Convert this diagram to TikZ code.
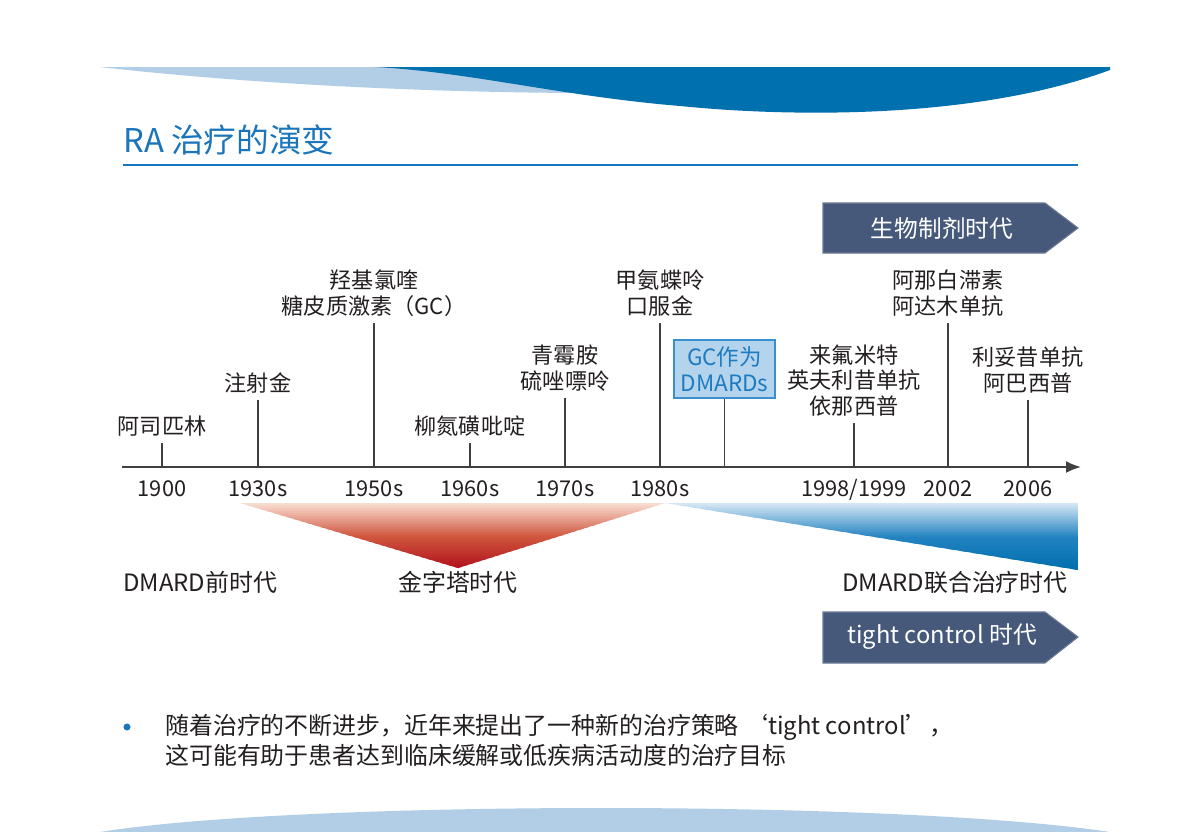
\documentclass[tikz,border=0pt]{standalone}
\usepackage{fontspec}
\setmainfont{Noto Sans CJK SC}
\usetikzlibrary{arrows.meta}
\definecolor{cwave}{HTML}{0070AE}
\definecolor{cwavelt}{HTML}{B2CEE6}
\definecolor{ctitle}{HTML}{1B75BB}
\definecolor{cban}{HTML}{46597A}
\definecolor{cink}{HTML}{231F20}
\definecolor{cgrey}{HTML}{404040}
\definecolor{cgcfill}{HTML}{B4D4EE}
\definecolor{cgcline}{HTML}{3A8FCF}
\definecolor{cgctext}{HTML}{1E7BC0}
\definecolor{cpyrlt}{HTML}{F8DCD0}
\definecolor{cpyrmid}{HTML}{D0583F}
\definecolor{cpyrdk}{HTML}{B2121C}
\definecolor{ccomblt}{HTML}{D4E6F4}
\definecolor{ccombmid}{HTML}{2383C1}
\definecolor{ccombdk}{HTML}{006EAE}

\begin{document}
\begin{tikzpicture}[
    x=0.02cm, y=-0.02cm,
    >={Latex[length=3mm, width=2.4mm]},
    axisline/.style={->, line width=1.1pt, draw=cgrey},
    tick/.style={line width=0.9pt, draw=cgrey},
    lbl/.style={font=\fontsize{12.6}{14.7}\selectfont, text=cink, align=center,
                anchor=south, inner sep=3.5pt},
    yr/.style={font=\fontsize{12.4}{14}\selectfont, text=cink, anchor=base},
    era/.style={font=\fontsize{13.6}{15}\selectfont, text=cink, inner sep=0pt},
    banner/.style={fill=cban, draw=cban!80!white, line width=0.6pt},
    bantxt/.style={font=\fontsize{13.5}{15}\selectfont, text=white},
    gcbox/.style={draw=cgcline, fill=cgcfill, line width=0.9pt, text=cgctext,
                  align=center, font=\fontsize{12.8}{14.7}\selectfont,
                  minimum width=2.02cm, minimum height=1.16cm, inner sep=0pt},
    note/.style={font=\fontsize{13.6}{17}\selectfont, text=cink, align=left, inner sep=0pt},
    dot/.style={circle, fill=ctitle, inner sep=0pt, minimum size=4pt},
  ]
  % page, pixel grid of the slide
  \fill[white] (0,0) rectangle (1201,832);
  \path[use as bounding box] (0,0) rectangle (1201,832);
  % == header waves and title
  \fill[cwavelt] (100,67) -- (575,67) -- (575,93)
    .. controls (420,92) and (250,84) .. (100,67) -- cycle;
  \fill[cwave] (375,67) -- (1110,67) -- (1110,70)
    .. controls (980,118) and (800,118) .. (680,106)
    .. controls (560,96) and (470,72) .. (375,67) -- cycle;
  \node[font=\fontsize{18.6}{20}\selectfont, text=ctitle, anchor=west, inner sep=0pt]
    (title) at (123,140) {RA 治疗的演变};
  \draw[line width=1.7pt, draw=ctitle] (123,165) -- (1078,165);
  % == eras above the axis
  \draw[banner] (823,203) -- (1045,203) -- (1078,228) -- (1045,253) -- (823,253) -- cycle;
  \node[bantxt] (bio) at (942,228) {生物制剂时代};
  % == the time axis
  \coordinate (axL) at (122,467);
  \coordinate (axR) at (1081,467);
  \draw[axisline] (axL) -- (axR);
  \node[lbl] (aspirin) at (162,443) {阿司匹林};
  \node[lbl] (gold) at (258,400) {注射金};
  \node[lbl] (hcq) at (374,323) {羟基氯喹\\糖皮质激素（GC）};
  \node[lbl] (ssz) at (470,443) {柳氮磺吡啶};
  \node[lbl] (pen) at (565,398) {青霉胺\\硫唑嘌呤};
  \node[lbl] (mtx) at (660,323) {甲氨蝶呤\\口服金};
  \node[gcbox] (gc) at (724.5,369) {GC作为\\DMARDs};
  \node[lbl] (lef) at (854,423) {来氟米特\\英夫利昔单抗\\依那西普};
  \node[lbl] (ana) at (948,323) {阿那白滞素\\阿达木单抗};
  \node[lbl] (rit) at (1028,400) {利妥昔单抗\\阿巴西普};
  \foreach \n in {aspirin,gold,hcq,ssz,pen,mtx,gc,lef,ana,rit}
    \draw[tick] (\n.south) -- (\n.south |- axL);
  \foreach \x/\t in {162/1900, 258/1930s, 374/1950s, 470/1960s, 565/1970s,
                     660/1980s, 854/{1998/1999}, 948/2002, 1028/2006}
    \node[yr] (yr\x) at (\x,496) {\t};
  % == pyramid and combination wedges, shaded in thin bands
  \begin{scope}
    \clip (240,503) -- (665,503) -- (458,568) -- cycle;
    \foreach \i in {0,...,32} {
      \pgfmathtruncatemacro\pa{min(100,\i*100/16)}
      \pgfmathtruncatemacro\pb{max(0,(\i-16)*100/16)}
      \colorlet{band}{cpyrmid!\pa!cpyrlt}
      \colorlet{band}{cpyrdk!\pb!band}
      \fill[band] (240,503+2*\i) rectangle (665,505.6+2*\i);
    }
  \end{scope}
  \begin{scope}
    \clip (665,503) -- (1078,503) -- (1078,570) -- cycle;
    \foreach \i in {0,...,33} {
      \pgfmathtruncatemacro\pa{min(100,\i*100/16.5)}
      \pgfmathtruncatemacro\pb{max(0,(\i-16.5)*100/16.5)}
      \colorlet{band}{ccombmid!\pa!ccomblt}
      \colorlet{band}{ccombdk!\pb!band}
      \fill[band] (665,503+2*\i) rectangle (1078,505.6+2*\i);
    }
  \end{scope}
  \node[era, anchor=west] (pre) at (123,582) {DMARD前时代};
  \node[era] (pyr) at (458,582) {金字塔时代};
  \node[era, anchor=east] (comb) at (1068,582) {DMARD联合治疗时代};
  \draw[banner] (823,612) -- (1045,612) -- (1078,637) -- (1045,663) -- (823,663) -- cycle;
  \node[bantxt] (tc) at (942,637) {tight control 时代};
  % == bullet note
  \node[dot] (bul) at (127,727) {};
  \node[note, anchor=north west] (txt) at (165,714)
    {随着治疗的不断进步，近年来提出了一种新的治疗策略 ‘tight control’，\\
     这可能有助于患者达到临床缓解或低疾病活动度的治疗目标};
  % == footer wave
  \fill[cwavelt] (100,832) .. controls (300,800) and (900,800) .. (1110,832) -- cycle;
\end{tikzpicture}
\end{document}
